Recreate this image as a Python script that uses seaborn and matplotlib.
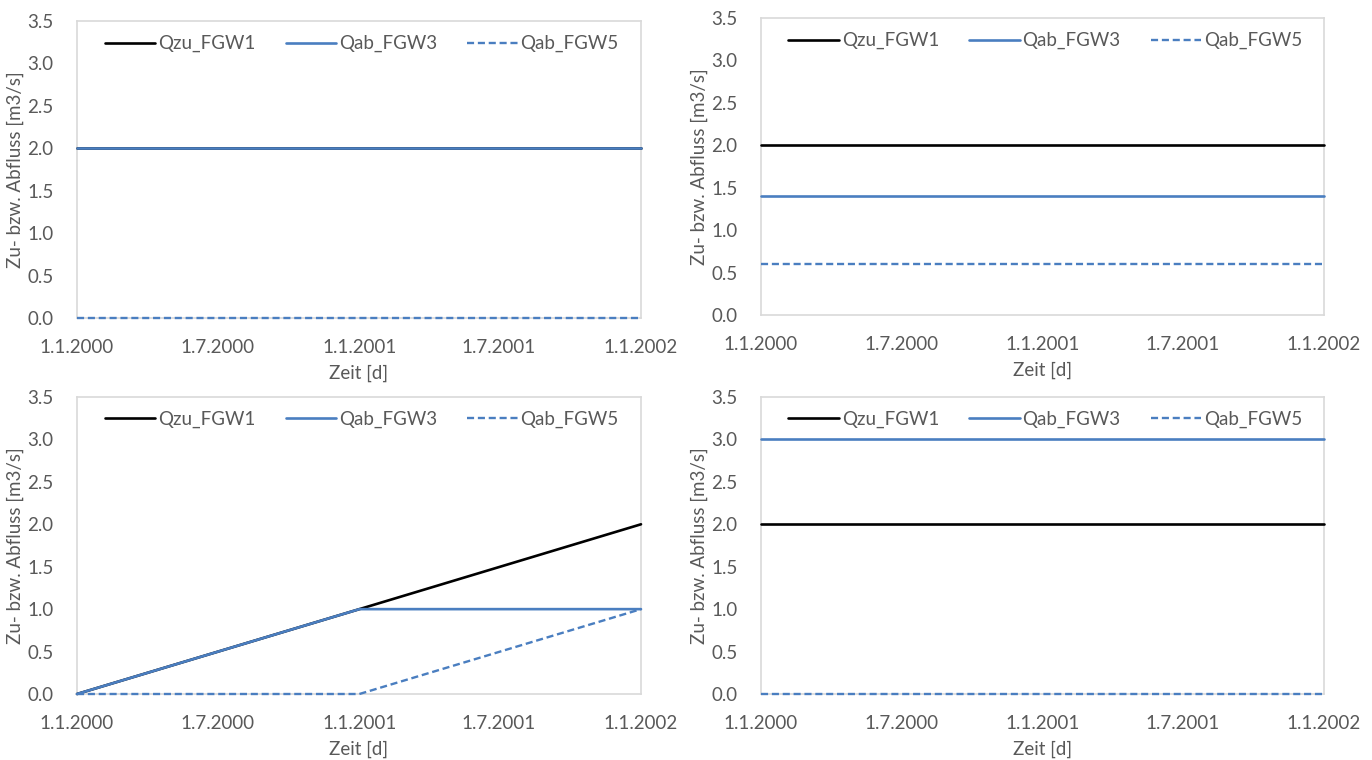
import matplotlib
matplotlib.use("Agg")
import matplotlib.pyplot as plt
import matplotlib.dates as mdates
from matplotlib.ticker import FuncFormatter, MultipleLocator
import seaborn as sns
import pandas as pd

# Time points (start, break, end)
zeit = pd.to_datetime(["2000-01-01", "2001-01-01", "2002-01-01"])
tick_dates = pd.to_datetime(["2000-01-01", "2000-07-01", "2001-01-01", "2001-07-01", "2002-01-01"])

series_names = ["Qzu_FGW1", "Qab_FGW3", "Qab_FGW5"]

# Discharge values per scenario [m3/s]
fall1_qzu = [2.0, 2.0, 2.0]
fall1_qab3 = [2.0, 2.0, 2.0]
fall1_qab5 = [0.0, 0.0, 0.0]

fall2_qzu = [2.0, 2.0, 2.0]
fall2_qab3 = [1.4, 1.4, 1.4]
fall2_qab5 = [0.6, 0.6, 0.6]

fall3_qzu = [0.0, 1.0, 2.0]
fall3_qab3 = [0.0, 1.0, 1.0]
fall3_qab5 = [0.0, 0.0, 1.0]

fall4_qzu = [2.0, 2.0, 2.0]
fall4_qab3 = [3.0, 3.0, 3.0]
fall4_qab5 = [0.0, 0.0, 0.0]

scenarios = [
    (fall1_qzu, fall1_qab3, fall1_qab5),
    (fall2_qzu, fall2_qab3, fall2_qab5),
    (fall3_qzu, fall3_qab3, fall3_qab5),
    (fall4_qzu, fall4_qab3, fall4_qab5),
]

sns.set_theme(style="white")
plt.rcParams["font.family"] = ["Lato", "DejaVu Sans"]

TEXT = "#595959"
BORDER = "#D9D9D9"
BLUE = "#4A7EC0"
FS = 13.5
styles = {
    "Qzu_FGW1": dict(color="black", dashes=None),
    "Qab_FGW3": dict(color=BLUE, dashes=None),
    "Qab_FGW5": dict(color=BLUE, dashes=(3, 1.6)),
}

fig = plt.figure(figsize=(13.72, 7.6), dpi=100)
W, H = 1372, 760
boxes = [
    (77, 641, 21, 318),
    (761, 1324, 18, 315),
    (77, 641, 397, 694),
    (761, 1324, 397, 694),
]

date_fmt = FuncFormatter(lambda v, pos: "{d.day}.{d.month}.{d.year}".format(d=mdates.num2date(v)))

for (x0, x1, y0, y1), vals in zip(boxes, scenarios):
    ax = fig.add_axes([x0 / W, 1 - y1 / H, (x1 - x0) / W, (y1 - y0) / H])
    for name, v in zip(series_names, vals):
        st = styles[name]
        lw = 1.9 if st["dashes"] is None else 1.7
        sns.lineplot(x=zeit, y=v, ax=ax, color=st["color"], linewidth=lw, label=name)
        ln = ax.lines[-1]
        ln.set_clip_on(False)
        ln.set_zorder(3)
        if st["dashes"]:
            ln.set_dashes(st["dashes"])
    ax.set_ylim(0, 3.5)
    ax.set_xlim(zeit[0], zeit[-1])
    ax.yaxis.set_major_locator(MultipleLocator(0.5))
    ax.yaxis.set_major_formatter(FuncFormatter(lambda v, pos: f"{v:.1f}"))
    ax.set_xticks(tick_dates)
    ax.xaxis.set_major_formatter(date_fmt)
    ax.tick_params(axis="both", length=0, labelsize=FS, colors=TEXT)
    ax.tick_params(axis="y", pad=17)
    ax.tick_params(axis="x", pad=15)
    for sp in ax.spines.values():
        sp.set_color(BORDER)
        sp.set_linewidth(1.2)
    ax.set_xlabel("Zeit [d]", fontsize=FS, color=TEXT, labelpad=6)
    ax.set_ylabel("Zu- bzw. Abfluss [m3/s]", fontsize=FS, color=TEXT, labelpad=2)
    ax.grid(False)
    leg = ax.legend(loc="upper center", bbox_to_anchor=(0.505, 1.0), ncol=3, frameon=False,
                    fontsize=FS, handlelength=2.7, handletextpad=0.15, columnspacing=1.6,
                    borderaxespad=0.35)
    for t in leg.get_texts():
        t.set_color(TEXT)

fig.savefig("out.png", dpi=100, facecolor="white")
